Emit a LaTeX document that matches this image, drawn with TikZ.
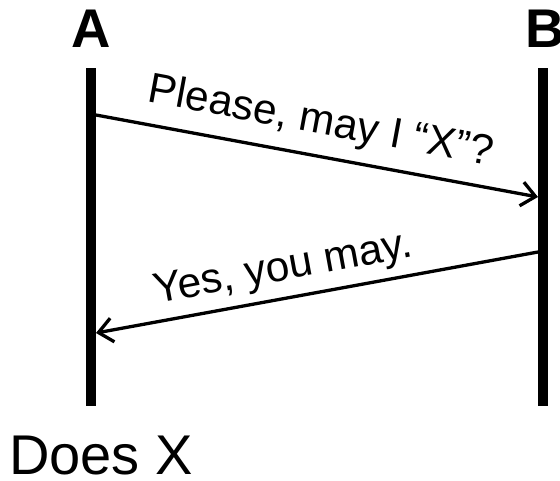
\documentclass[tikz,border=0pt]{standalone}
\usepackage{fontspec}
\setmainfont{Liberation Sans}
\usetikzlibrary{arrows.meta}
\begin{document}
\begin{tikzpicture}[x=1pt,y=-1pt,
  lifeline/.style={line width=10pt},
  msg/.style={line width=3.3pt,-{Straight Barb[length=14pt,width=24pt]}},
  actor/.style={font=\fontsize{54.5}{60}\selectfont\bfseries,anchor=base,inner sep=0pt},
  msgtext/.style={font=\fontsize{42.5}{48}\selectfont,anchor=base,inner sep=0pt},
  note/.style={font=\fontsize{56}{60}\selectfont,anchor=base west,inner sep=0pt}]
\useasboundingbox (0,0) rectangle (560,480);
% lifelines
\coordinate (Atop) at (91,68);
\coordinate (Abot) at (91,406);
\coordinate (Btop) at (543,68);
\coordinate (Bbot) at (543,406);
\draw[lifeline] (Atop) -- (Abot);
\draw[lifeline] (Btop) -- (Bbot);
% actor labels
\node[actor] (A) at (91,47) {A};
\node[actor] (B) at (545,47) {B};
% messages
\coordinate (a1) at (96,115);
\coordinate (b1) at (538,197);
\coordinate (b2) at (538,252);
\coordinate (a2) at (96,333);
\draw[msg] (a1) -- (b1);
\draw[msg] (b2) -- (a2);
\node[msgtext,rotate=-10.5] (m1) at (318.5,133.5) {Please, may I “X”?};
\node[msgtext,rotate=10.4] (m2) at (285,280) {Yes, you may.};
% note
\node[note] (does) at (9,474) {Does X};
\end{tikzpicture}
\end{document}
